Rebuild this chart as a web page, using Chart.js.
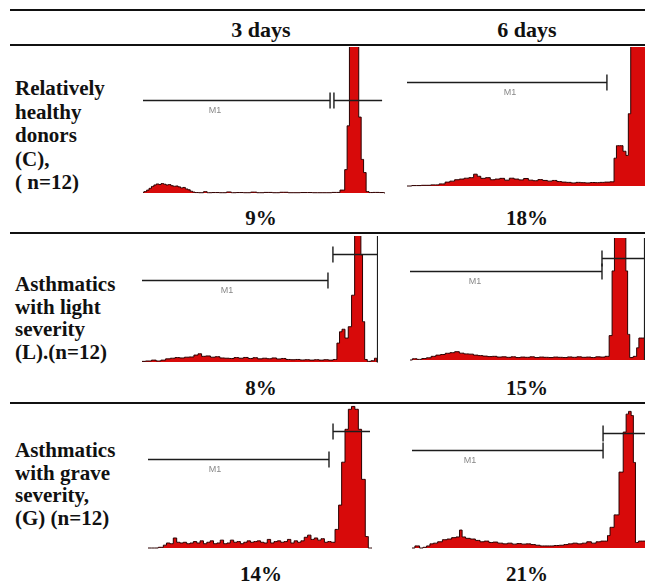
<!DOCTYPE html>
<html>
<head>
<meta charset="utf-8">
<script src="https://cdn.jsdelivr.net/npm/chart.js@4"></script>
<style>
body { margin: 0; background: #fff; width: 645px; height: 586px; position: relative; overflow: hidden;
  font-family: 'Liberation Serif', 'Times New Roman', serif; font-weight: bold; color: #111; }
.rule { position: absolute; left: 10px; width: 635px; background: #111; }
.lbl { position: absolute; left: 15px; font-size: 21px; line-height: 23px; white-space: nowrap; }
.ctr { position: absolute; font-size: 21px; line-height: 21px; transform: translate(-50%, -50%); white-space: nowrap; }
canvas { position: absolute; }
</style>
</head>
<body>
<script>
// table text
const columns = ['3 days', '6 days'];
const groupLines = [
    ['Relatively', 'healthy', 'donors', '(C),', '( n=12)'],
    ['Asthmatics', 'with light', 'severity', '(L).(n=12)'],
    ['Asthmatics', 'with grave', 'severity,', '(G) (n=12)'],
];
const percents = [
    [9, 18],
    [8, 15],
    [14, 21],
];

// histograms: [channel (0-1000), count (100 = top of panel)]
const healthy3d = [[0,0.5],[10,1],[20,2],[30,3.2],[40,4.5],[50,5.5],[60,6.2],[70,5.8],[80,6.5],[90,6],[100,5.5],[110,5.8],[120,5],[130,4.6],[140,4.8],[150,4.2],[160,3.5],[170,3.8],[180,2.8],[190,2.2],[200,1.2],[210,0.6],[220,0.3],[240,0.2],[260,0.9],[270,0.2],[300,0.3],[330,0.2],[360,0.7],[370,0.2],[400,0.3],[430,0.2],[460,0.6],[480,0.2],[520,0.4],[550,0.2],[580,0.5],[620,0.2],[680,0.3],[720,0.2],[760,0.2],[800,0.4],[828,2],[839,16],[848,46],[858,130],[869,140],[886,130],[897,52],[906,23],[917,14],[927,1],[940,0.3],[960,0.4],[993,0.3],[1000,0]];
const healthy6d = [[0,0],[40,0.3],[80,0.5],[120,0.8],[150,1.5],[170,2.8],[190,3.5],[210,4.5],[230,5],[250,5.6],[270,6],[290,8.5],[300,7],[320,5.5],[340,6],[360,4.5],[380,5],[400,5.5],[420,4.2],[440,5.6],[460,5],[480,4.4],[500,5.4],[520,4.2],[540,3.8],[560,4.6],[580,4],[600,3.5],[620,4],[640,3.2],[660,2.8],[680,2.6],[700,2.2],[720,2.6],[740,2.4],[760,2.2],[780,2.5],[800,2.4],[820,2.6],[840,2.8],[865,3],[875,20],[885,29],[900,29],[915,25],[925,22],[935,52],[945,140],[1000,140]];
const light3d = [[0,0.5],[30,0.8],[50,1.5],[70,0.8],[90,1.5],[110,2.5],[130,3],[150,3.5],[170,3.2],[190,3.8],[210,4],[230,5.5],[245,6.5],[260,4.5],[280,4.8],[300,3.8],[320,4.2],[340,3.2],[360,3],[380,2.8],[400,3.5],[420,3],[440,3.6],[460,2.8],[480,3.4],[500,2.5],[520,3],[540,2.6],[560,3.2],[580,2.4],[600,2.8],[620,2],[640,1.8],[660,2],[680,1.6],[700,1.8],[720,1.5],[740,1.8],[760,1.5],[780,1.8],[800,1.5],[820,2],[832,15],[842,24],[853,26],[867,19],[881,28],[895,53],[907,140],[924,140],[931,85],[938,32],[949,2],[960,0.5],[980,1],[990,3],[1000,0]];
const light6d = [[0,0],[20,1],[40,0.5],[60,1.2],[80,1.8],[100,3],[120,4],[140,4.5],[160,5.5],[180,6],[200,6.8],[220,5.6],[240,5],[260,4.8],[280,4],[300,3.6],[320,3.2],[340,2.8],[360,3],[380,2.4],[400,2.6],[420,2.2],[440,2.6],[460,2],[480,2.4],[500,2.2],[520,2.6],[540,2],[560,2.4],[580,2.2],[600,2],[620,2.4],[640,2.2],[660,2],[680,2.5],[700,2.2],[720,2.6],[740,2.2],[760,2.4],[780,2],[800,2.6],[820,2.4],[840,3],[855,20],[865,73],[875,140],[915,140],[922,73],[930,21],[940,2],[960,3],[969,10],[979,18],[1000,18]];
const grave3d = [[0,0],[30,0],[62,0.5],[75,2],[90,3.5],[105,3],[121,7],[135,4],[150,3.5],[165,4],[180,3],[195,3.5],[210,4.5],[225,3.5],[240,5],[255,3],[270,4],[285,5],[300,3],[315,3.5],[330,5.5],[345,3],[360,3.5],[375,5.5],[390,4],[405,4.5],[420,3],[435,4],[450,5],[465,4],[480,4.5],[495,5],[510,4],[525,3.5],[540,6],[555,3.5],[570,4.5],[585,5],[600,4],[615,4.5],[630,6],[645,3.5],[660,5],[675,4],[690,5],[705,7.5],[720,9],[735,6],[750,7],[765,5.5],[780,6.5],[795,4],[810,4.5],[825,4],[845,13],[857,30],[872,60],[887,83],[902,97],[915,99],[932,97],[946,83],[961,48],[979,8],[988,0],[1000,0]];
const grave6d = [[0,0],[25,1.5],[40,0],[55,0.5],[70,1.5],[84,3],[100,3.5],[120,4.5],[141,6],[160,6.5],[180,7.5],[198,8],[210,13],[220,8],[240,7],[260,6.5],[284,5.5],[300,4.5],[320,5],[340,4],[356,4.3],[380,3.5],[400,3],[420,3.5],[440,2.8],[460,3.2],[480,2.8],[500,3],[520,2.5],[540,2],[560,1.5],[580,1.5],[600,1.5],[620,1.8],[644,2],[660,2.5],[680,3],[700,3.5],[720,3],[740,3.5],[760,4.5],[780,3.5],[800,4.5],[820,5],[835,5],[843,9],[857,15],[878,24],[899,55],[914,84],[924,97],[935,99],[946,96],[954,62],[964,4],[980,5],[1000,5]];

// marker gates: channel range, marker level, capped end, label channel
const healthy3dGates = [{ from: 0, to: 773, y: 64, cap: 'end', label: 298 }, { from: 789, to: 988, y: 64, cap: 'start' }];
const healthy6dGates = [{ from: 0, to: 840, y: 75, cap: 'end', label: 433 }];
const light3dGates = [{ from: 0, to: 788, y: 65, cap: 'end', label: 360 }, { from: 809, to: 1000, y: 86, cap: 'start' }];
const light6dGates = [{ from: 0, to: 817, y: 73, cap: 'end', label: 277 }, { from: 817, to: 1000, y: 84, cap: 'start' }];
const grave3dGates = [{ from: 0, to: 808, y: 62, cap: 'end', label: 299 }, { from: 826, to: 991, y: 82, cap: 'start' }];
const grave6dGates = [{ from: 0, to: 820, y: 71, cap: 'end', label: 249 }, { from: 820, to: 1000, y: 83, cap: 'start' }];

const panels = [
    { data: healthy3d, gates: healthy3dGates, box: [143, 47, 385, 193] },
    { data: healthy6d, gates: healthy6dGates, box: [407, 47, 645, 186] },
    { data: light3d, gates: light3dGates, box: [142, 236, 378, 362], edge: 996 },
    { data: light6d, gates: light6dGates, box: [410, 238, 645, 360], edge: 996 },
    { data: grave3d, gates: grave3dGates, box: [148, 405, 372, 548] },
    { data: grave6d, gates: grave6dGates, box: [412, 410, 645, 548] },
];

const colCenters = [261, 527];
const rowTops = [77, 273, 439];
const pctY = [218, 388, 574];

const add = (tag, cls, css, text) => {
    const el = document.createElement(tag);
    if (cls) el.className = cls;
    Object.assign(el.style, css);
    if (text !== undefined) el.textContent = text;
    document.body.appendChild(el);
    return el;
};

// rules
[[9, 2], [44, 1.5], [232, 1.5], [402, 1.5]].forEach(([top, h]) => add('div', 'rule', { top: top + 'px', height: h + 'px' }));

columns.forEach((c, i) => add('div', 'ctr', { left: colCenters[i] + 'px', top: '29px', fontSize: '22px' }, c));

groupLines.forEach((lines, r) => {
    const el = add('div', 'lbl', { top: rowTops[r] + 'px', lineHeight: r === 0 ? '23.5px' : '22.5px' });
    el.innerHTML = lines.join('<br>');
});

percents.forEach((row, r) => row.forEach((v, c) =>
    add('div', 'ctr', { left: colCenters[c] + 'px', top: pctY[r] + 'px' }, v + '%')));

const gatePlugin = {
    id: 'gates',
    afterDatasetsDraw(chart, args, opts) {
        const { ctx, scales: { x, y } } = chart;
        const base = y.getPixelForValue(0);
        ctx.save();
        ctx.strokeStyle = '#1c1c1c';
        ctx.lineWidth = 1.4;
        (opts.list || []).forEach((g) => {
            const x1 = x.getPixelForValue(g.from);
            const x2 = x.getPixelForValue(g.to);
            const py = Math.round(y.getPixelForValue(g.y)) + 0.5;
            ctx.beginPath();
            ctx.moveTo(x1, py);
            ctx.lineTo(x2, py);
            const cx = g.cap === 'end' ? x2 : x1;
            ctx.moveTo(cx, py - 8);
            ctx.lineTo(cx, py + 8);
            ctx.stroke();
            if (g.label !== undefined) {
                ctx.fillStyle = '#888';
                ctx.font = '9px Arial, "Liberation Sans", sans-serif';
                ctx.textAlign = 'center';
                ctx.textBaseline = 'middle';
                ctx.fillText('M1', x.getPixelForValue(g.label), py + 10);
            }
        });
        if (opts.edge !== undefined) {
            const ex = Math.round(x.getPixelForValue(opts.edge)) + 0.5;
            ctx.lineWidth = 1.2;
            ctx.beginPath();
            ctx.moveTo(ex, y.top);
            ctx.lineTo(ex, base);
            ctx.stroke();
        }
        ctx.restore();
    },
};

panels.forEach((p) => {
    const [x0, y0, x1, y1] = p.box;
    const h = y1 - y0;
    const canvas = add('canvas', null, { left: x0 + 'px', top: y0 + 'px' });
    canvas.width = x1 - x0;
    canvas.height = h + 3;
    new Chart(canvas, {
        type: 'line',
        data: {
            datasets: [{
                data: p.data.map(([x, y]) => ({ x, y })),
                stepped: 'middle',
                fill: 'origin',
                backgroundColor: '#d80a0a',
                borderColor: '#2a0000',
                borderWidth: 1,
                pointRadius: 0,
            }],
        },
        options: {
            responsive: false,
            animation: false,
            events: [],
            layout: { padding: 0 },
            plugins: {
                legend: { display: false },
                tooltip: { enabled: false },
                gates: { list: p.gates, edge: p.edge },
            },
            scales: {
                x: { type: 'linear', min: 0, max: 1000, display: false },
                y: { min: -300 / h, max: 100, display: false },
            },
        },
        plugins: [gatePlugin],
    });
});
</script>
</body>
</html>
